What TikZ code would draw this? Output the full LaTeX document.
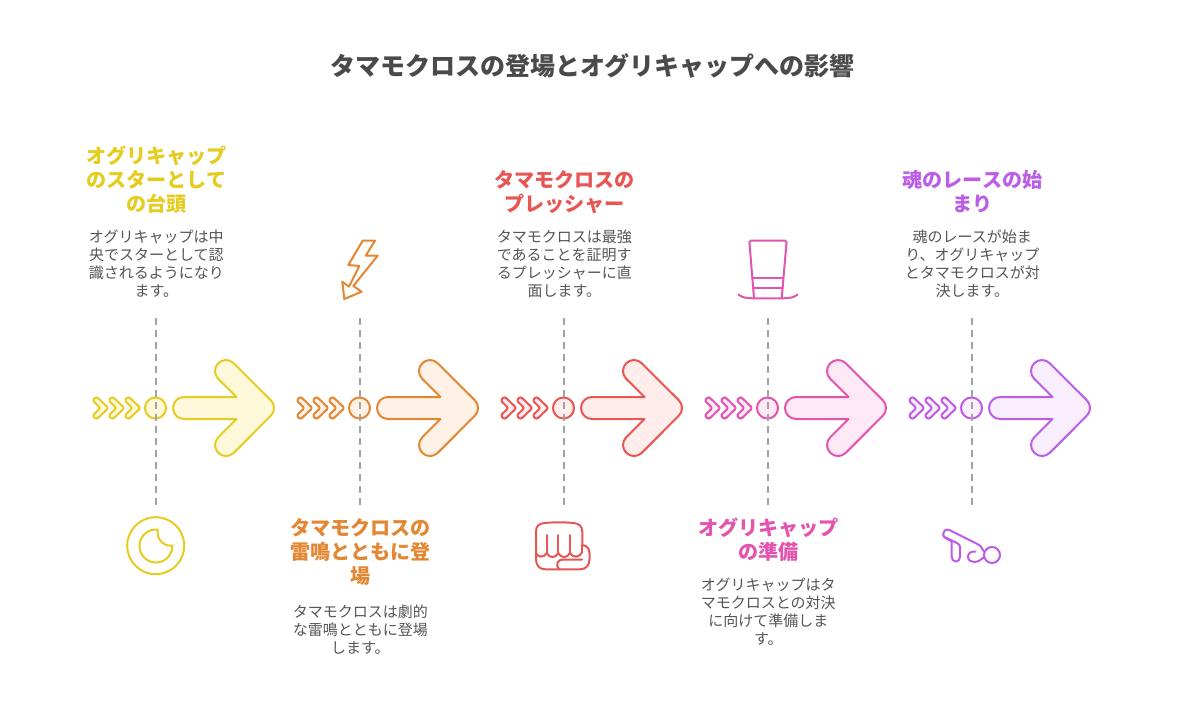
\documentclass[tikz,border=0pt]{standalone}
\usepackage{fontspec}
\setmainfont{Noto Sans CJK JP}
\definecolor{ttl}{HTML}{4A4A4A}
\definecolor{bodyc}{HTML}{555555}
\definecolor{dashc}{HTML}{A3A3A3}
\definecolor{cA}{HTML}{E5CC1E}\definecolor{fA}{HTML}{FFF9DB}
\definecolor{cB}{HTML}{E38733}\definecolor{fB}{HTML}{FFF1E5}
\definecolor{cC}{HTML}{E85654}\definecolor{fC}{HTML}{FFEDEC}
\definecolor{cD}{HTML}{E254AE}\definecolor{fD}{HTML}{FDE9F6}
\definecolor{cE}{HTML}{BC5DE8}\definecolor{fE}{HTML}{F8EEFE}
\tikzset{
  headtext/.style={align=center,inner sep=0pt,font=\fontsize{20.1}{24}\selectfont\bfseries},
  bodytext/.style={align=center,inner sep=0pt,text=bodyc,font=\fontsize{15}{18}\selectfont},
  stem/.style={draw=dashc,line width=2pt,dash pattern=on 7pt off 5pt},
  shapeline/.style={line width=2pt,line join=round,line cap=round},
  hub/.style={circle,minimum size=21pt,inner sep=0pt,line width=2pt},
}
% #1 id, #2 x offset, #3 stroke, #4 fill
\newcommand\stagemark[4]{%
\begin{scope}[shift={(#2,0)}]
  \foreach \k in {0,16,32}{
    \draw[shapeline,draw=#3,fill=#4,rounded corners=2.2pt,shift={(\k,0)}]
      (92.5,400.5) -- (96.5,396.5) -- (108.5,408) -- (96.5,419.5) -- (92.5,415.5) -- (100.5,408) -- cycle;
  }
  \node[hub,draw=#3,fill=#4] (hub#1) at (155.5,408) {};
  \draw[shapeline,draw=#3,fill=#4]
    (184,397) -- (236.5,397) -- (218.2,378.8)
    arc[start angle=225,end angle=45,radius=11pt]
    -- (270.8,400.2)
    arc[start angle=45,end angle=-45,radius=11pt]
    -- (233.8,452.8)
    arc[start angle=-45,end angle=-225,radius=11pt]
    -- (236.5,419) -- (184,419)
    arc[start angle=270,end angle=90,radius=11pt] -- cycle;
  \coordinate (top#1) at (155.5,318);
  \coordinate (bot#1) at (155.5,505);
  \draw[stem] (top#1) -- (bot#1);
\end{scope}}
\begin{document}
\begin{tikzpicture}[x=1pt,y=-1pt]
\useasboundingbox[fill=white] (0,0) rectangle (1184,720);
\node[inner sep=0pt,text=ttl,font=\fontsize{25}{30}\selectfont\bfseries] (title) at (592.5,65.5) {タマモクロスの登場とオグリキャップへの影響};

\stagemark{a}{0}{cA}{fA}
\stagemark{b}{204}{cB}{fB}
\stagemark{c}{408}{cC}{fC}
\stagemark{d}{612}{cD}{fD}
\stagemark{e}{816}{cE}{fE}

\node[headtext,text=cA] (ha) at (156.5,180) {オグリキャップ\\のスターとして\\の台頭};
\node[bodytext] (ta) at (156.3,264) {オグリキャップは中\\央でスターとして認\\識されるようになり\\ます。};
\node[headtext,text=cB] (hb) at (360.5,552) {タマモクロスの\\雷鳴とともに登\\場};
\node[bodytext] (tb) at (360.3,630) {タマモクロスは劇的\\な雷鳴とともに登場\\します。};
\node[headtext,text=cC] (hc) at (564.5,192) {タマモクロスの\\プレッシャー};
\node[bodytext] (tc) at (564.3,264) {タマモクロスは最強\\であることを証明す\\るプレッシャーに直\\面します。};
\node[headtext,text=cD] (hd) at (768.5,540) {オグリキャップ\\の準備};
\node[bodytext] (td) at (768.3,612) {オグリキャップはタ\\マモクロスとの対決\\に向けて準備しま\\す。};
\node[headtext,text=cE] (he) at (972.5,192) {魂のレースの始\\まり};
\node[bodytext] (te) at (972.3,264) {魂のレースが始ま\\り、オグリキャップ\\とタマモクロスが対\\決します。};

% moon icon
\draw[shapeline,draw=cA] (155.7,545.7) circle[radius=28.5pt];
\draw[shapeline,draw=cA] (157.7,529.6) arc[start angle=84,end angle=362,radius=16.5pt]
  .. controls (165.5,547) and (156,540.5) .. cycle;

% lightning icon
\draw[shapeline,draw=cB] (362.7,240.7) -- (375,240.7) -- (365.7,255.7) -- (377.7,255.7)
  -- (353.3,286) -- (361.7,291.7) -- (344.3,299) -- (342.3,281.7) -- (349,286.7)
  -- (359.3,266) -- (348.3,265) -- cycle;

% fist icon
\begin{scope}[shapeline]
\draw[cC] (536,532) .. controls (536,525.5) and (539,523.5) .. (545,523)
  .. controls (555,522) and (563,522) .. (573,523)
  .. controls (579,523.5) and (582,525.5) .. (582.3,532)
  -- (582.3,545) .. controls (587,545.5) and (589.5,549) .. (589.5,553)
  -- (589.5,559) .. controls (589.5,565.5) and (586,569.3) .. (580,569.3)
  -- (545,569.3) .. controls (539,569.3) and (536,565) .. (536,559) -- cycle;
\draw[cC] (536,553) .. controls (537,557) and (544,558.5) .. (546.7,553)
  .. controls (549.5,558.5) and (555.5,558.5) .. (558.3,553)
  .. controls (561,558.5) and (567,558.5) .. (570,553)
  .. controls (573,558.5) and (580,557.5) .. (582.3,552);
\draw[cC] (546.7,535) -- (546.7,553);
\draw[cC] (558.3,535) -- (558.3,553);
\draw[cC] (570,535) -- (570,553);
\draw[cC] (582.3,545) -- (582.3,552);
\draw[cC] (582,559.5) -- (563,559.5) .. controls (557,559.5) and (555.5,565.5) .. (559,569.3);
\end{scope}

% top hat icon
\draw[shapeline,draw=cD,rounded corners=1.5pt] (754,298.3) -- (749.3,240.7) -- (786.7,240.7) -- (781.7,298.3);
\draw[shapeline,draw=cD] (752.4,278.3) -- (783.4,278.3);
\draw[shapeline,draw=cD] (753.2,288.3) -- (782.6,288.3);
\draw[shapeline,draw=cD] (738.5,294.5) .. controls (742,298) and (748,298.3) .. (754,298.3)
  -- (781.7,298.3) .. controls (788,298.3) and (794,298) .. (797.5,294.5);

% last icon
\begin{scope}[shapeline]
\draw[cE] (951.7,541.5) -- (945.5,538) .. controls (942.5,536) and (942.5,532.5) .. (944.5,530.7)
  .. controls (946,529.3) and (948,529.3) .. (950,530.3)
  -- (977,543.8) .. controls (980.5,545.5) and (982.5,548) .. (983.5,551);
\draw[cE] (944,536.8) -- (957,543) .. controls (959,544) and (960,545.5) .. (960,547)
  -- (960,556.5) .. controls (960,559.5) and (958.5,561.5) .. (956,561.5)
  .. controls (953,561.5) and (951.7,559.5) .. (951.7,556.5) -- (951.7,541.5);
\draw[cE] (975.5,551.5) .. controls (971,551) and (968,553.5) .. (968,556.5)
  .. controls (968,560.5) and (971,562) .. (974,562)
  .. controls (978,562) and (981,560) .. (983.5,557.5);
\draw[cE] (992,555) circle[radius=8pt];
\end{scope}
\end{tikzpicture}
\end{document}
